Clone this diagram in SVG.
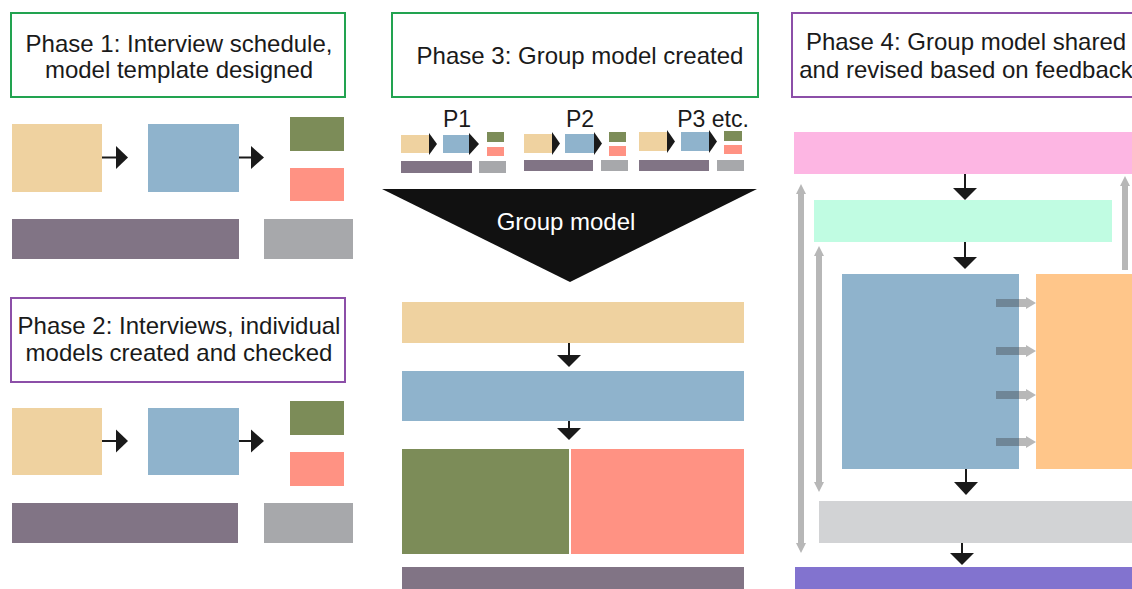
<svg xmlns="http://www.w3.org/2000/svg" width="1132" height="589" viewBox="0 0 1132 589">
  <style>
    .title { font-family: "Liberation Sans", Arial, sans-serif; font-size: 24px; fill: #1a1a1a; text-anchor: middle; }
    .tag { font-size: 23px; }
    .frame-g { fill: #ffffff; stroke: #22a350; stroke-width: 2; }
    .frame-p { fill: #ffffff; stroke: #8c4fa8; stroke-width: 2; }
    .tan { fill: #efd2a0; }
    .blue { fill: #8fb3cc; }
    .green { fill: #7c8c58; }
    .salmon { fill: #ff9283; }
    .plum { fill: #817485; }
    .grey { fill: #a7a8ab; }
    .pink { fill: #fdb6e3; }
    .mint { fill: #c0fce2; }
    .orange { fill: #ffc68a; }
    .light { fill: #d2d3d5; }
    .violet { fill: #8273cf; }
    .wire { stroke: #1a1a1a; stroke-width: 2; fill: none; }
    .head { fill: #1a1a1a; }
    .fb { fill: #b7b7b7; }
    .push { fill: #333333; fill-opacity: 0.35; }
  </style>

  <rect width="1132" height="589" fill="#ffffff"/>

  <!-- Phase 1 -->
  <g id="phase1-label">
    <rect class="frame-g" x="11" y="13" width="334" height="84"/>
    <text class="title" x="179" y="52">Phase 1: Interview schedule,</text>
    <text class="title" x="179" y="78">model template designed</text>
  </g>
  <g id="phase1-template">
    <rect class="tan" x="12" y="124" width="90" height="68"/>
    <rect class="blue" x="148" y="124" width="91" height="68"/>
    <rect class="green" x="290" y="117" width="54" height="34"/>
    <rect class="salmon" x="290" y="168" width="54" height="33"/>
    <rect class="plum" x="12" y="219" width="227" height="40"/>
    <rect class="grey" x="264" y="219" width="89" height="40"/>
  </g>

  <!-- Phase 2 -->
  <g id="phase2-label">
    <rect class="frame-p" x="11" y="298" width="334" height="84"/>
    <text class="title" x="179" y="334">Phase 2: Interviews, individual</text>
    <text class="title" x="179" y="361">models created and checked</text>
  </g>
  <g id="phase2-model">
    <rect class="tan" x="12" y="408" width="90" height="67"/>
    <rect class="blue" x="148" y="408" width="91" height="67"/>
    <rect class="green" x="290" y="401" width="54" height="34"/>
    <rect class="salmon" x="290" y="452" width="54" height="34"/>
    <rect class="plum" x="12" y="503" width="226" height="40"/>
    <rect class="grey" x="264" y="503" width="89" height="40"/>
  </g>

  <!-- Phase 3 -->
  <g id="phase3-label">
    <rect class="frame-g" x="392" y="13" width="366" height="84"/>
    <text class="title" x="580" y="64">Phase 3: Group model created</text>
  </g>
  <g id="phase3-individuals">
    <text class="title tag" x="457" y="127">P1</text>
    <rect class="tan" x="401" y="135" width="28" height="18"/>
    <polygon class="head" points="429,133 437,144 429,155"/>
    <rect class="blue" x="443" y="135" width="26" height="18"/>
    <polygon class="head" points="469,133 479,144 469,155"/>
    <rect class="green" x="487" y="132" width="17" height="10"/>
    <rect class="salmon" x="487" y="147" width="17" height="9"/>
    <rect class="plum" x="401" y="161" width="71" height="12"/>
    <rect class="grey" x="479" y="161" width="27" height="12"/>

    <text class="title tag" x="580" y="127">P2</text>
    <rect class="tan" x="524" y="134" width="28" height="19"/>
    <polygon class="head" points="552,132 560,143.5 552,155"/>
    <rect class="blue" x="565" y="134" width="29" height="19"/>
    <polygon class="head" points="594,132 602,143.5 594,155"/>
    <rect class="green" x="609" y="132" width="17" height="10"/>
    <rect class="salmon" x="609" y="146" width="17" height="10"/>
    <rect class="plum" x="524" y="160" width="69" height="11"/>
    <rect class="grey" x="601" y="160" width="27" height="11"/>

    <text class="title tag" x="713" y="127">P3 etc.</text>
    <rect class="tan" x="639" y="132" width="28" height="19"/>
    <polygon class="head" points="667,130 675,141.5 667,153"/>
    <rect class="blue" x="681" y="132" width="28" height="19"/>
    <polygon class="head" points="709,130 717,141.5 709,153"/>
    <rect class="green" x="724" y="131" width="18" height="10"/>
    <rect class="salmon" x="724" y="145" width="18" height="9"/>
    <rect class="plum" x="639" y="160" width="70" height="11"/>
    <rect class="grey" x="717" y="160" width="27" height="11"/>
  </g>
  <g id="phase3-merge">
    <polygon fill="#111111" points="382,189 757,189 570,282"/>
    <text class="title" x="566" y="230" style="fill:#ffffff">Group model</text>
  </g>
  <g id="phase3-group-model">
    <rect class="tan" x="402" y="302" width="342" height="41"/>
    <rect class="blue" x="402" y="371" width="342" height="50"/>
    <rect class="green" x="402" y="449" width="167" height="105"/>
    <rect class="salmon" x="571" y="449" width="173" height="105"/>
    <rect class="plum" x="402" y="567" width="342" height="22"/>
  </g>

  <!-- Phase 4 -->
  <g id="phase4-label">
    <rect class="frame-p" x="792" y="13" width="350" height="84"/>
    <text class="title" x="966" y="50">Phase 4: Group model shared</text>
    <text class="title" x="966" y="78">and revised based on feedback</text>
  </g>
  <g id="phase4-model">
    <rect class="pink" x="794" y="132" width="338" height="42"/>
    <rect class="mint" x="814" y="200" width="298" height="42"/>
    <rect class="blue" x="842" y="274" width="177" height="195"/>
    <rect class="orange" x="1036" y="274" width="96" height="195"/>
    <rect class="light" x="819" y="501" width="313" height="42"/>
    <rect class="violet" x="795" y="567" width="337" height="22"/>
  </g>

  <!-- Connectors -->
  <g id="connectors">
    <!-- Phase 1 -->
    <line class="wire" x1="102" y1="157.5" x2="117" y2="157.5"/>
    <polygon class="head" points="116,146 128,157.5 116,169"/>
    <line class="wire" x1="239" y1="157.5" x2="252" y2="157.5"/>
    <polygon class="head" points="251,146 264,157.5 251,169"/>
    <!-- Phase 2 -->
    <line class="wire" x1="102" y1="441" x2="117" y2="441"/>
    <polygon class="head" points="116,429.5 128,441 116,452.5"/>
    <line class="wire" x1="239" y1="441" x2="252" y2="441"/>
    <polygon class="head" points="251,429.5 264,441 251,452.5"/>
    <!-- Phase 3 group model -->
    <line class="wire" x1="569" y1="343" x2="569" y2="356"/>
    <polygon class="head" points="557,355 581,355 569,367"/>
    <line class="wire" x1="569" y1="421" x2="569" y2="429"/>
    <polygon class="head" points="557,428 581,428 569,440"/>
    <!-- Phase 4 main flow -->
    <line class="wire" x1="965" y1="174" x2="965" y2="189"/>
    <polygon class="head" points="953,188 977,188 965,200"/>
    <line class="wire" x1="965" y1="242" x2="965" y2="258"/>
    <polygon class="head" points="953,257 977,257 965,269"/>
    <line class="wire" x1="966" y1="469" x2="966" y2="483"/>
    <polygon class="head" points="954,482 978,482 966,495"/>
    <line class="wire" x1="962" y1="543" x2="962" y2="554"/>
    <polygon class="head" points="950,553 974,553 962,565"/>
    <!-- Phase 4 feedback loops -->
    <polygon class="fb" points="801,184 806,194 804,194 804,543 806,543 801,553 796,543 798,543 798,194 796,194"/>
    <polygon class="fb" points="819,246 824,256 822,256 822,482 824,482 819,492 814,482 816,482 816,256 814,256"/>
    <polygon class="fb" points="1125,176 1130,186 1128,186 1128,270 1122,270 1122,186 1120,186"/>
    <!-- Phase 4 blue to orange -->
    <polygon class="push" points="996,299 1026,299 1026,297 1036,303 1026,309 1026,307 996,307"/>
    <polygon class="push" points="996,347 1026,347 1026,345 1036,351 1026,357 1026,355 996,355"/>
    <polygon class="push" points="996,391 1026,391 1026,389 1036,395 1026,401 1026,399 996,399"/>
    <polygon class="push" points="996,438 1026,438 1026,436 1036,442 1026,448 1026,446 996,446"/>
  </g>
</svg>
